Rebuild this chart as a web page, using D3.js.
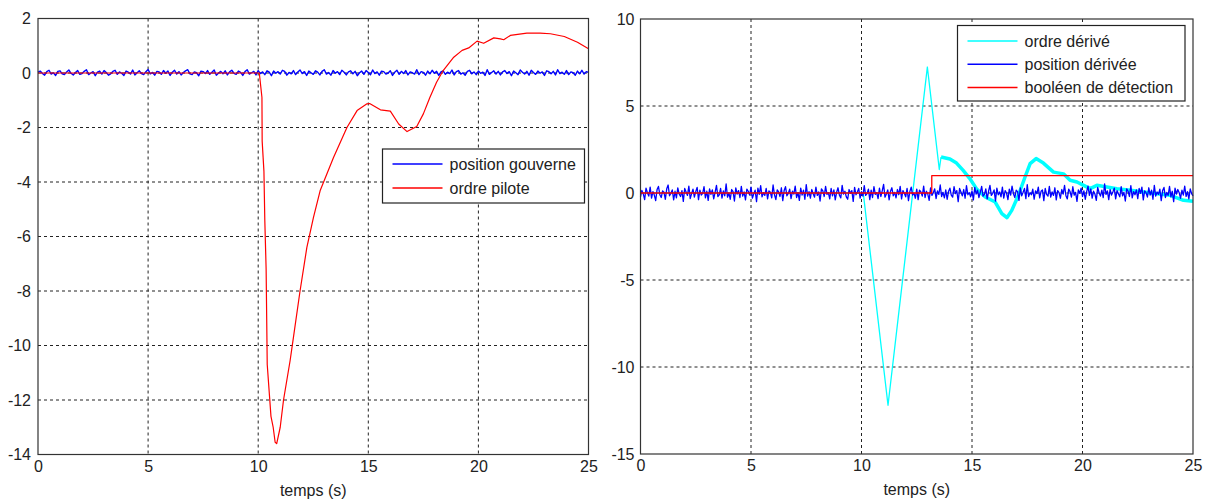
<!DOCTYPE html>
<html><head><meta charset="utf-8">
<script src="https://cdn.jsdelivr.net/npm/d3@7"></script>
<style>body{margin:0;background:#fff;}svg{display:block;font-family:"Liberation Sans",Arial,sans-serif;}</style>
</head><body>
<svg id="c" width="1210" height="499"></svg>
<script>
// ---- data ----
const xTicks = [0, 5, 10, 15, 20, 25];
const leftYTicks = [2, 0, -2, -4, -6, -8, -10, -12, -14];
const rightYTicks = [10, 5, 0, -5, -10, -15];
const xLabel = "temps (s)";
const leftLegend = ["position gouverne", "ordre pilote"];
const rightLegend = ["ordre dérivé", "position dérivée", "booléen de détection"];

// left: ordre pilote (t, v)
const ordrePiloteT = [0, 10.05, 10.17, 10.18, 10.26, 10.3, 10.36, 10.41, 10.58, 10.68, 10.77, 10.84, 11.0, 11.15, 11.45, 11.6, 11.9, 12.21, 12.51, 12.82, 13.42, 14.03, 14.49, 14.94, 15.06, 15.55, 16.0, 16.38, 16.76, 17.2, 17.5, 17.8, 18.1, 18.4, 18.88, 19.26, 19.56, 19.94, 20.24, 20.7, 21.0, 21.15, 21.45, 22.2, 22.8, 23.27, 23.9, 24.5, 25];
const ordrePiloteV = [0, 0, -0.9, -2.5, -3.6, -5.4, -7.2, -10.7, -12.6, -13.0, -13.55, -13.6, -13.0, -12.0, -10.55, -9.7, -8.0, -6.4, -5.3, -4.3, -3.1, -2.0, -1.38, -1.13, -1.12, -1.35, -1.4, -1.87, -2.15, -1.96, -1.5, -0.89, -0.34, 0.09, 0.58, 0.83, 0.92, 1.17, 1.09, 1.29, 1.25, 1.22, 1.38, 1.46, 1.46, 1.44, 1.34, 1.13, 0.89];

// left: position gouverne (sampled every 0.1 s)
const positionGouverneDt = 0.1;
const positionGouverne = [
0.03,0.07,-0.02,-0.08,0.05,0.10,-0.04,0.01,-0.09,0.06,
0.08,-0.03,-0.06,0.04,0.11,-0.01,-0.07,0.02,0.09,-0.05,
-0.02,0.06,0.12,-0.06,0.00,0.05,-0.10,0.03,0.07,-0.04,
0.09,0.02,-0.08,-0.03,0.06,0.10,-0.05,0.04,-0.01,-0.09,
0.07,0.03,-0.04,0.11,-0.07,0.01,0.08,-0.02,-0.06,0.05,
0.13,-0.03,0.02,-0.08,0.06,0.04,-0.05,0.09,-0.01,0.07,
-0.09,0.03,0.10,-0.04,0.05,-0.07,0.02,0.08,0.12,-0.03,
-0.06,0.04,0.01,-0.10,0.07,0.05,-0.02,0.09,-0.05,0.03,
0.11,-0.08,0.00,0.06,-0.03,0.08,-0.07,0.04,0.10,-0.01,
-0.05,0.07,0.02,-0.09,0.05,0.12,-0.04,0.01,0.06,-0.07,
0.09,-0.02,0.04,-0.06,0.08,0.03,-0.10,0.07,-0.01,0.05,
-0.04,0.10,0.06,-0.08,0.02,-0.03,0.09,-0.06,0.04,0.11,
-0.02,0.05,-0.09,0.07,0.01,-0.05,0.08,0.03,-0.07,0.06,
0.12,-0.04,0.02,-0.08,0.09,-0.01,0.05,-0.06,0.10,0.03,
-0.07,0.04,0.08,-0.03,0.06,-0.10,0.01,0.07,-0.05,0.09,
0.02,-0.06,0.11,-0.02,0.04,-0.08,0.07,0.05,-0.04,0.00,
0.08,-0.09,0.03,0.10,-0.05,0.06,-0.02,0.09,-0.07,0.04,
0.01,-0.04,0.12,-0.06,0.05,0.02,-0.08,0.07,-0.03,0.10,
-0.01,0.06,-0.09,0.04,0.08,-0.05,0.03,-0.02,0.11,-0.07,
0.05,0.09,-0.04,0.01,-0.08,0.06,0.10,-0.03,0.04,-0.06,
0.07,-0.01,0.03,-0.09,0.12,-0.05,0.02,0.08,-0.04,0.06,
-0.07,0.04,0.09,-0.02,0.05,-0.10,0.07,0.01,-0.06,0.11,
0.03,-0.04,0.06,-0.08,0.10,0.02,-0.05,0.07,-0.01,0.04,
-0.09,0.08,0.05,-0.03,0.06,-0.07,0.12,-0.02,0.03,-0.05,
0.09,-0.06,0.04,0.01,-0.08,0.07,-0.03,0.10,-0.04,0.05,
0.02];

// right: ordre dérivé (t, v)
const ordreDeriveT = [0, 10.08, 11.2, 12.98, 13.52, 13.6, 14.0, 14.3, 14.6, 14.9, 15.2, 15.6, 16.05, 16.35, 16.58, 16.8, 17.1, 17.4, 17.63, 17.9, 18.23, 18.69, 19.14, 19.44, 19.75, 20.05, 20.35, 20.65, 21.1, 21.56, 22.16, 22.76, 23.37, 23.97, 24.57, 25];
const ordreDeriveV = [0, 0, -12.2, 7.24, 1.35, 2.07, 1.95, 1.72, 1.3, 0.83, 0.25, -0.23, -0.52, -1.18, -1.42, -1.0, -0.13, 0.92, 1.69, 1.98, 1.72, 1.2, 1.1, 0.73, 0.63, 0.44, 0.25, 0.44, 0.35, 0.25, 0.16, 0.06, -0.04, -0.13, -0.42, -0.48];
const ordreDeriveNoisyFrom = 13.6;

// right: position dérivée (sampled every 0.0625 s)
const positionDeriveeDt = 0.0625;
const positionDerivee = [
-0.22,0.15,-0.05,-0.38,0.28,0.02,-0.18,0.34,-0.30,0.08,
-0.12,-0.44,0.20,0.38,-0.10,-0.26,0.12,0.04,-0.36,0.24,
0.46,-0.16,-0.02,0.18,-0.40,0.10,-0.28,0.30,-0.06,-0.20,
0.14,-0.48,0.26,0.06,-0.14,0.40,-0.32,-0.04,0.22,-0.24,
0.08,0.32,-0.38,0.16,-0.12,-0.02,0.36,-0.28,0.10,-0.42,
0.24,-0.08,0.18,-0.34,0.04,0.44,-0.20,-0.10,0.26,-0.30,
0.12,-0.16,0.52,-0.24,0.00,-0.36,0.20,0.08,-0.46,0.30,
-0.06,0.14,-0.26,0.38,-0.18,0.06,-0.40,0.22,0.10,-0.12,
0.34,-0.30,-0.04,0.16,-0.50,0.28,-0.08,0.42,-0.22,0.02,
-0.14,0.26,-0.34,0.12,0.04,-0.28,0.46,-0.10,-0.38,0.18,
0.06,-0.20,0.30,-0.44,0.14,0.36,-0.16,-0.02,0.22,-0.32,
0.10,-0.06,0.40,-0.26,0.02,-0.42,0.28,-0.12,0.16,-0.36,
0.48,-0.18,0.08,-0.30,0.20,-0.04,-0.24,0.34,-0.14,0.06,
-0.46,0.24,0.12,-0.20,0.38,-0.08,0.02,-0.34,0.26,-0.16,
0.18,-0.40,0.04,0.30,-0.12,-0.28,0.44,-0.06,0.10,-0.22,
-0.36,0.20,-0.02,0.14,-0.48,0.32,-0.10,0.06,0.26,-0.30,
0.08,-0.18,0.42,-0.14,-0.04,0.22,-0.38,0.16,-0.26,0.36,
-0.08,0.02,-0.32,0.28,-0.20,0.12,0.50,-0.24,-0.06,0.18,
-0.40,0.10,0.30,-0.16,0.04,-0.28,0.20,-0.10,0.38,-0.34,
0.14,-0.02,-0.22,0.26,-0.44,0.08,0.34,-0.12,0.00,-0.30,
0.22,-0.38,0.16,0.06,-0.18,0.40,-0.26,0.10,-0.06,-0.42,
0.30,-0.14,0.02,0.24,-0.32,0.12,-0.08,0.46,-0.20,0.04,
-0.28,0.18,-0.36,0.08,0.28,-0.12,-0.24,0.36,-0.04,0.14,
-0.50,0.26,0.06,-0.16,0.20,-0.30,0.42,-0.10,0.02,-0.22,
0.12,-0.40,0.32,-0.06,0.16,-0.26,0.04,0.38,-0.18,-0.08,
0.24,-0.34,0.10,0.44,-0.14,-0.02,0.18,-0.46,0.28,-0.10,
0.06,-0.22,0.34,-0.30,0.14,0.00,-0.38,0.22,-0.12,0.40,
-0.04,-0.26,0.16,0.08,-0.42,0.30,-0.16,0.04,0.26,-0.32,
0.48,-0.20,0.02,-0.10,0.22,-0.36,0.12,-0.04,0.34,-0.28,
0.10,0.18,-0.44,0.26,-0.08,-0.18,0.38,-0.24,0.06,-0.14,
0.30,-0.40,0.14,0.02,-0.30,0.20,-0.06,0.44,-0.16,-0.34,
0.22,0.08,-0.24,0.36,-0.12,0.04,-0.48,0.18,-0.02,0.28,
-0.20,0.12,-0.36,0.06,0.40,-0.14,0.24,-0.30,0.10,-0.06,
-0.42,0.32,0.02,-0.18,0.16,-0.26,0.52,-0.08,0.12,-0.38,
0.20,-0.12,0.06,0.28,-0.34,0.14,-0.04,-0.22,0.36,-0.16,
0.04,-0.46,0.24,0.10,-0.20,0.42,-0.28,0.08,-0.10,0.18,
-0.32,0.26,-0.02,0.34,-0.40,0.12,0.02,-0.24,0.30,-0.12,
0.16,-0.36,0.44,-0.18,0.06,-0.08,0.22,-0.44,0.14,0.32,
-0.26,0.04,-0.14,0.38,-0.22,0.10,-0.50,0.28,-0.06,0.20,
0.02,-0.30,0.16,-0.12,0.40,-0.20,0.08,-0.34,0.24,-0.04,
-0.16];

// right: booléen de détection (step)
const booleenT = [0, 13.18, 13.18, 25];
const booleenV = [0, 0, 1, 1];

// ---- drawing ----
const svg = d3.select("#c");
const FONT = "Liberation Sans, Arial, sans-serif";

function panel(cfg) {
  const x = d3.scaleLinear().domain([0, 25]).range([cfg.x0, cfg.x1]);
  const y = d3.scaleLinear().domain(cfg.yDomain).range([cfg.y1, cfg.y0]);
  const g = svg.append("g");
  // grid
  g.append("g").selectAll("line").data(xTicks.slice(1, -1)).join("line")
    .attr("x1", d => x(d)).attr("x2", d => x(d)).attr("y1", cfg.y0).attr("y2", cfg.y1)
    .attr("stroke", "#222").attr("stroke-width", 1).attr("stroke-dasharray", "3,3");
  g.append("g").selectAll("line").data(cfg.yTicks.filter(d => d !== cfg.yDomain[0] && d !== cfg.yDomain[1])).join("line")
    .attr("x1", cfg.x0).attr("x2", cfg.x1).attr("y1", d => y(d)).attr("y2", d => y(d))
    .attr("stroke", "#222").attr("stroke-width", 1).attr("stroke-dasharray", "3,3");
  // axes via d3
  const xAxis = d3.axisBottom(x).tickValues(xTicks).tickSize(0).tickPadding(6).tickFormat(d3.format("d"));
  const yAxis = d3.axisLeft(y).tickValues(cfg.yTicks).tickSize(0).tickPadding(cfg.yPad).tickFormat(d => d < 0 ? "-" + Math.abs(d) : d);
  const gx = g.append("g").attr("transform", `translate(0,${cfg.y1})`).call(xAxis);
  const gy = g.append("g").attr("transform", `translate(${cfg.x0},0)`).call(yAxis);
  [gx, gy].forEach(a => {
    a.select(".domain").remove();
    a.selectAll("text").attr("font-size", 16).attr("fill", "#222").attr("font-family", FONT);
  });
  g.append("text").attr("x", (cfg.x0 + cfg.x1) / 2).attr("y", cfg.y1 + 41)
    .attr("text-anchor", "middle").attr("font-size", 16).attr("fill", "#222").attr("font-family", FONT).text(xLabel);
  return { x, y, g };
}

function drawLine(p, ts, vs, color, w) {
  const pts = ts.map((t, i) => [t, vs[i]]);
  p.g.append("path").datum(pts)
    .attr("d", d3.line().x(d => p.x(d[0])).y(d => p.y(d[1])))
    .attr("fill", "none").attr("stroke", color).attr("stroke-width", w).attr("stroke-linejoin", "round");
}

function frame(p, cfg) {
  p.g.append("rect").attr("x", cfg.x0).attr("y", cfg.y0).attr("width", cfg.x1 - cfg.x0).attr("height", cfg.y1 - cfg.y0)
    .attr("fill", "none").attr("stroke", "#333").attr("stroke-width", 1.2);
}

function legend(p, box, names, colors) {
  const lg = p.g.append("g");
  lg.append("rect").attr("x", box.x).attr("y", box.y).attr("width", box.w).attr("height", box.h)
    .attr("fill", "#fff").attr("stroke", "#222").attr("stroke-width", 1.2);
  names.forEach((n, i) => {
    const yy = box.y + box.first + i * box.step;
    lg.append("line").attr("x1", box.x + 10).attr("x2", box.x + 60).attr("y1", yy).attr("y2", yy)
      .attr("stroke", colors[i]).attr("stroke-width", 1.5);
    lg.append("text").attr("x", box.x + 67).attr("y", yy + 5.5).attr("font-size", 16).attr("fill", "#222").attr("font-family", FONT).text(n);
  });
}

// left panel
const L = { x0: 38, x1: 588.5, y0: 18.5, y1: 454.5, yDomain: [-14, 2], yTicks: leftYTicks, yPad: 7 };
const pl = panel(L);
drawLine(pl, positionGouverne.map((_, i) => i * positionGouverneDt), positionGouverne, "#0000ff", 1.4);
drawLine(pl, ordrePiloteT, ordrePiloteV, "#ff0000", 1.2);
frame(pl, L);
legend(pl, { x: 382.5, y: 149, w: 202, h: 54, first: 15, step: 24 }, leftLegend, ["#0000ff", "#ff0000"]);

// right panel
const R = { x0: 640.5, x1: 1193, y0: 19, y1: 454, yDomain: [-15, 10], yTicks: rightYTicks, yPad: 6 };
const pr = panel(R);
const splitIdx = ordreDeriveT.indexOf(ordreDeriveNoisyFrom);
drawLine(pr, ordreDeriveT.slice(0, splitIdx + 1), ordreDeriveV.slice(0, splitIdx + 1), "#00ffff", 1.3);
drawLine(pr, ordreDeriveT.slice(splitIdx), ordreDeriveV.slice(splitIdx), "#00ffff", 3.5);
drawLine(pr, positionDerivee.map((_, i) => i * positionDeriveeDt), positionDerivee, "#0000ff", 1.3);
drawLine(pr, booleenT, booleenV, "#ff0000", 1.3);
frame(pr, R);
legend(pr, { x: 957.5, y: 25.5, w: 227.5, h: 75.5, first: 15.5, step: 23.3 }, rightLegend, ["#00ffff", "#0000ff", "#ff0000"]);
</script>
</body></html>
